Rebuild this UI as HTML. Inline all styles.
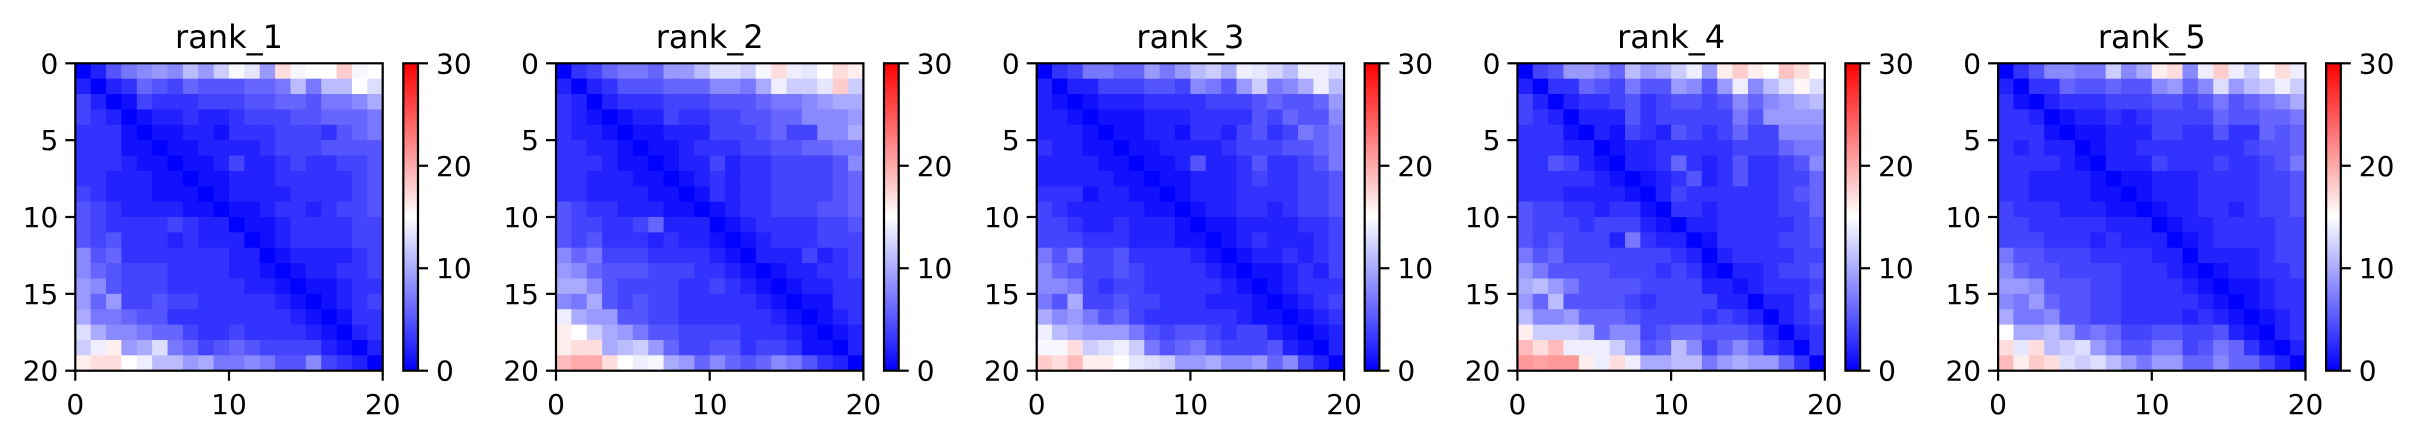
<!DOCTYPE html>
<html><head><meta charset="utf-8"><style>
html,body{margin:0;padding:0;background:#fff;}
svg{display:block;font-family:"DejaVu Sans","Liberation Sans",sans-serif;}
</style></head><body>
<svg id="fig" width="2417" height="438" viewBox="0 0 2417 438" xmlns="http://www.w3.org/2000/svg">
<defs><linearGradient id="bwr" x1="0" y1="1" x2="0" y2="0">
<stop offset="0" stop-color="#0000ff"/><stop offset="0.5" stop-color="#ffffff"/><stop offset="1" stop-color="#ff0000"/></linearGradient></defs>
</svg>
<script>
const titles = ["rank_1","rank_2","rank_3","rank_4","rank_5"];
const axisTicks = [0,5,10,15,20];
const xTicks = [0,10,20];
const cbTicks = [0,10,20,30];
const vmin = 0, vmax = 30;
const rank1 = [
[0,2,5,7,8,9,8,11,9,12,14.5,13.5,9,17,14.5,15,15,18,14.5,15],
[2,0,2,3,6,5,4,6,5,5,5,6,6,7,11,7,11,11,15,13],
[4,2,0,1,4,3,3,3,4,4,4,5,5,6,6,5,7,7,8,10],
[4,3,2,0,1,2,2,3,2,2,3,4,4,4,5,5,6,6,6,7],
[3,3,3,1,0,1,1,2,2,1,3,3,3,4,4,4,3,5,6,7],
[3,3,3,1,1,0,1,1,2,2,2,2,3,4,4,4,5,5,5,5],
[3,3,3,2,1,1,0,1,1,2,4,2,2,3,4,3,3,4,4,5],
[3,3,2,2,2,1,1,0,1,1,2,2,2,3,3,3,3,3,4,5],
[4,3,2,2,2,1,1,1,0,1,2,2,2,2,3,3,3,3,4,5],
[5,4,3,2,2,2,2,1,1,0,1,1,2,3,3,2,3,4,4,5],
[5,4,3,3,3,3,4,3,2,2,0,1,1,2,3,3,3,3,4,4],
[5,4,5,3,3,3,2,3,2,2,2,0,1,2,3,3,3,3,4,4],
[8,5,6,3,3,3,3,3,3,3,2,2,0,1,2,2,2,2,3,4],
[8,6,5,4,4,4,3,3,3,3,2,2,1,0,1,2,2,3,3,4],
[9,8,5,4,4,4,3,3,3,3,3,2,2,1,0,1,1,2,3,3],
[9,6,9,4,4,5,4,4,3,3,3,3,3,2,1,0,1,2,3,4],
[10,7,7,6,5,5,3,3,3,3,3,3,3,3,2,1,0,1,3,3],
[13,10,8,8,7,6,6,4,3,3,4,3,3,3,3,2,1,0,2,3],
[12,14,16,9,10,13,7,6,4,5,6,5,4,4,4,4,2,1,0,2],
[16,17,17,15,14,11,11,9,10,7,7,8,7,5,5,8,4,3,2,0]];
const rank2 = [
[0,3,4,6,7,7,6,9,9,11,13,13,12,14.5,17,14,13.5,15,17,16],
[2,0,2,3,5,5,5,6,6,6,8,8,7,10,14,12,12,13.5,18,12],
[3,2,0,2,3,3,3,4,4,4,5,5,5,6,7,7,8,9,10,10],
[3,2,1,0,1,2,2,4,3,3,4,4,5,5,6,6,8,8,8,9],
[3,2,2,1,0,1,1,2,2,2,4,4,4,5,6,4,4,8,8,10],
[3,3,2,2,1,0,1,1,2,3,3,3,4,4,5,5,6,6,7,7],
[3,3,3,2,1,1,0,1,2,2,4,2,3,3,4,4,4,4,5,8],
[3,3,2,2,2,1,1,0,1,2,3,2,3,3,4,4,4,4,5,6],
[3,3,2,2,2,2,1,1,0,1,3,2,3,3,4,4,4,4,5,6],
[5,4,3,3,2,2,2,1,1,0,1,2,3,3,4,4,4,5,5,6],
[5,4,4,3,3,4,6,2,2,2,0,1,2,3,3,3,3,4,4,5],
[5,4,5,3,3,3,2,3,2,2,1,0,1,2,3,3,3,4,4,4],
[8,6,7,4,4,4,3,3,3,3,2,1,0,2,2,2,4,2,3,4],
[9,8,6,5,5,5,4,4,4,3,3,2,1,0,1,2,2,3,3,4],
[10,10,8,5,4,4,4,4,3,3,4,3,2,1,0,1,2,2,3,3],
[8,7,10,5,4,5,4,4,3,3,3,3,3,2,1,0,1,1,3,3],
[14,10,9,9,5,5,4,4,3,3,3,3,3,3,2,1,0,1,2,3],
[16,15,12,10,9,7,5,5,4,4,4,4,3,3,3,2,1,0,1,2],
[16,17,17,10,11,12,9,6,4,4,5,5,3,4,4,3,1,1,0,2],
[19,20,20,17,15,14,14.5,10,9,6,8,6,5,6,8,7,5,3,2,0]];
const rank3 = [
[0,3,4,7,7,6,6,9,7,9,11,12,10,14,13.5,12.5,11,14,14,13],
[2,0,2,2,4,4,4,5,5,4,8,7,5,9,12,7,8,10,14,11],
[2,1,0,1,2,2,2,3,3,3,3,4,4,4,5,6,5,5,6,9],
[2,2,1,0,1,1,1,2,2,2,3,3,3,3,5,4,6,5,5,8],
[2,2,2,1,0,1,1,2,2,1,3,3,2,4,5,3,4,7,6,7],
[3,2,2,1,1,0,1,1,2,2,2,2,3,4,4,4,5,5,6,7],
[2,2,2,2,1,1,0,1,1,2,5,2,2,3,5,3,3,4,5,7],
[2,2,2,2,2,1,1,0,1,1,2,2,2,3,4,3,3,4,4,5],
[3,3,3,1,2,2,1,1,0,1,2,2,2,3,3,3,3,4,4,5],
[4,3,2,2,2,2,2,1,1,0,1,2,2,3,3,2,3,4,4,5],
[4,4,3,2,2,3,2,2,2,1,0,1,1,2,2,2,2,3,3,4],
[4,4,4,3,3,3,2,2,2,1,1,0,1,2,3,2,2,2,3,4],
[7,5,7,4,4,5,3,3,3,3,2,1,0,1,2,2,3,2,3,4],
[8,6,5,4,4,5,4,3,3,3,3,2,1,0,1,1,2,3,2,4],
[8,8,7,4,3,4,4,3,3,3,3,3,2,1,0,1,2,3,3,3],
[7,5,10,4,4,5,4,4,3,3,3,2,2,2,1,0,1,2,3,4],
[10,8,9,7,5,6,4,3,3,3,3,3,3,2,1,1,0,1,2,3],
[14,11,10,9,9,9,7,5,4,5,5,4,3,4,4,2,1,0,1,2],
[14.5,14.5,17,12,13,14,12,7,5,6,7,5,4,4,4,5,2,1,0,2],
[18,17,19,16,16,15,13.5,13,12,9,9,10,8,8,9,6,8,4,2,0]];
const rank4 = [
[0,4,5,9,9,8,6,11,9,10,12,14,9,16,18,16,15,18.5,17,15],
[2,0,3,3,6,5,4,7,5,5,9,8,5,9,14,8,11,13,15.5,13],
[4,2,0,2,3,3,4,5,3,4,5,5,4,5,8,6,8,9,10,11],
[4,3,2,0,2,2,2,5,3,4,4,4,4,4,7,5,9,9,9,9],
[3,3,3,1,0,2,1,4,3,2,5,4,3,4,6,4,4,8,8,8],
[3,3,3,2,2,0,1,2,2,3,3,3,3,3,4,4,4,6,7,7],
[3,3,5,4,2,1,0,2,2,3,6,3,2,3,5,3,3,4,5,8],
[3,3,3,3,3,2,1,0,1,2,3,5,2,3,5,3,3,4,4,6],
[3,3,3,2,2,2,2,1,0,2,4,3,3,3,3,3,3,4,5,6],
[5,4,4,3,3,2,3,3,1,0,3,3,2,3,3,3,3,4,4,6],
[5,4,4,4,3,4,4,4,2,1,0,2,2,3,3,3,3,3,4,5],
[5,4,5,4,4,4,2,7,3,2,2,0,1,3,3,3,3,4,4,5],
[7,5,6,4,4,4,4,4,4,4,3,2,0,2,3,3,3,3,4,4],
[9,7,5,5,5,5,4,4,4,3,4,3,1,0,2,2,3,4,4,5],
[10,11,9,7,5,5,5,5,4,4,4,4,2,2,1,2,3,3,3,4],
[9,6,11,5,5,5,5,4,3,4,4,4,4,2,2,0,2,2,3,5],
[11,8,8,9,6,6,6,5,4,4,4,4,3,4,3,2,0,2,3,4],
[16,12,12,12,11,6,8,8,4,5,6,6,5,5,5,4,2,0,2,3],
[19,17,19,14,14,14,12,9,5,6,11,8,4,6,8,6,3,2,0,3],
[21,20.5,21,21,16,14,17,14,10,10,11,11,7,9,10,9,9,6,3,0]];
const rank5 = [
[0,3,5,8,8,7,7,12,8,10,16,17,8,14,18,14,12,15,17,14],
[2,0,3,3,6,5,5,6,5,5,8,9,6,8,13,9,11,12,14,12],
[3,1,0,2,3,3,3,4,4,4,5,5,4,5,7,5,6,7,8,10],
[3,3,2,0,1,2,2,3,2,3,4,4,4,4,6,5,5,6,6,7],
[3,3,3,1,0,1,1,2,2,2,4,4,3,3,5,3,3,6,5,6],
[3,2,3,2,2,0,1,2,2,3,3,3,3,3,3,3,4,5,5,6],
[3,3,3,3,2,1,0,2,2,2,4,3,3,3,4,3,3,4,5,7],
[3,3,2,2,2,2,1,0,1,1,2,2,2,3,3,3,3,4,4,5],
[3,3,2,2,2,2,1,1,0,1,2,2,2,3,3,3,3,4,4,5],
[4,3,3,3,2,2,2,1,1,0,1,2,2,3,3,2,3,4,4,5],
[4,4,3,3,3,3,3,2,2,2,0,1,2,2,3,3,3,3,4,4],
[4,4,4,3,3,3,2,3,2,2,2,0,1,2,3,3,3,3,4,4],
[7,5,5,4,4,4,3,3,3,3,2,2,0,2,2,2,2,3,4,4],
[8,6,5,5,4,4,4,4,3,3,3,2,1,0,1,2,2,3,3,4],
[9,9,8,5,5,5,4,4,3,3,3,3,2,1,0,1,1,2,3,3],
[8,7,9,6,5,5,4,4,3,3,3,3,3,2,1,0,1,2,3,3],
[10,7,7,8,5,5,4,4,3,3,3,3,2,3,2,1,0,1,2,3],
[15,10,10,11,9,6,7,6,4,4,5,5,4,4,5,2,1,0,2,3],
[17,13.5,17,11,12,13,9,7,5,5,7,7,4,5,7,6,3,1,0,2],
[19,16,18,17,13,12,13,11,9,7,9,9,6,6,8,6,6,4,2,0]];
const matrices = [rank1,rank2,rank3,rank4,rank5];

const NS="http://www.w3.org/2000/svg";
const svg=document.getElementById('fig');
function mk(tag,attrs,parent){const e=document.createElementNS(NS,tag);for(const k in attrs)e.setAttribute(k,attrs[k]);(parent||svg).appendChild(e);return e;}
function bwr(v){let t=(v-vmin)/(vmax-vmin);t=Math.max(0,Math.min(1,t));let r,g,b;
 if(t<0.5){r=g=Math.round(t*2*255);b=255;}else{r=255;g=b=Math.round((1-t)*2*255);}
 return `rgb(${r},${g},${b})`;}
const axTop=63.3,axBottom=370.7,W=307.4,panelStep=480.7,firstLeft=75.3;
const n=20;
const tickFont=28, titleFont=32;
matrices.forEach((M,p)=>{
 const left=firstLeft+p*panelStep;
 const xs=v=>left+v/n*W, ys=v=>axTop+v/n*(axBottom-axTop);
 const g=mk('g',{});
 
 
 const cells=mk('g',{},g);
 
 
 M.forEach((row,i)=>row.forEach((v,j)=>{
  const r=mk('rect',{x:xs(j),y:ys(i),width:xs(j+1)-xs(j)+0.6,height:ys(i+1)-ys(i)+0.6,fill:bwr(v)},cells);
  
  
 }));
 const fr=mk('rect',{x:left,y:axTop,width:W,height:axBottom-axTop,fill:'none',stroke:'#000','stroke-width':2.2},g);
 
 
 const t=mk('text',{x:left+W/2,y:48,'text-anchor':'middle','font-size':titleFont,fill:'#000'},g);
 t.textContent=titles[p];
 
 
 axisTicks.forEach(v=>{
  mk('line',{x1:left-10,x2:left,y1:ys(v),y2:ys(v),stroke:'#000','stroke-width':2.2},g);
  const l=mk('text',{x:left-17,y:ys(v)+10,'text-anchor':'end','font-size':tickFont},g);
  l.textContent=v;
  
  
 });
 xTicks.forEach(v=>{
  mk('line',{x1:xs(v),x2:xs(v),y1:axBottom,y2:axBottom+10,stroke:'#000','stroke-width':2.2},g);
  const l=mk('text',{x:xs(v),y:414,'text-anchor':'middle','font-size':tickFont},g);
  l.textContent=v;
  
  
 });
 const cbL=left+328,cbW=14.7;
 const cb=mk('rect',{x:cbL,y:axTop,width:cbW,height:axBottom-axTop,fill:'url(#bwr)',stroke:'#000','stroke-width':2.2},g);
 
 
 cbTicks.forEach(v=>{
  const y=axBottom-(v-vmin)/(vmax-vmin)*(axBottom-axTop);
  mk('line',{x1:cbL+cbW,x2:cbL+cbW+10,y1:y,y2:y,stroke:'#000','stroke-width':2.2},g);
  const l=mk('text',{x:cbL+cbW+18,y:y+10,'font-size':tickFont},g);
  l.textContent=v;
  
  
 });
});
</script>
</body></html>
